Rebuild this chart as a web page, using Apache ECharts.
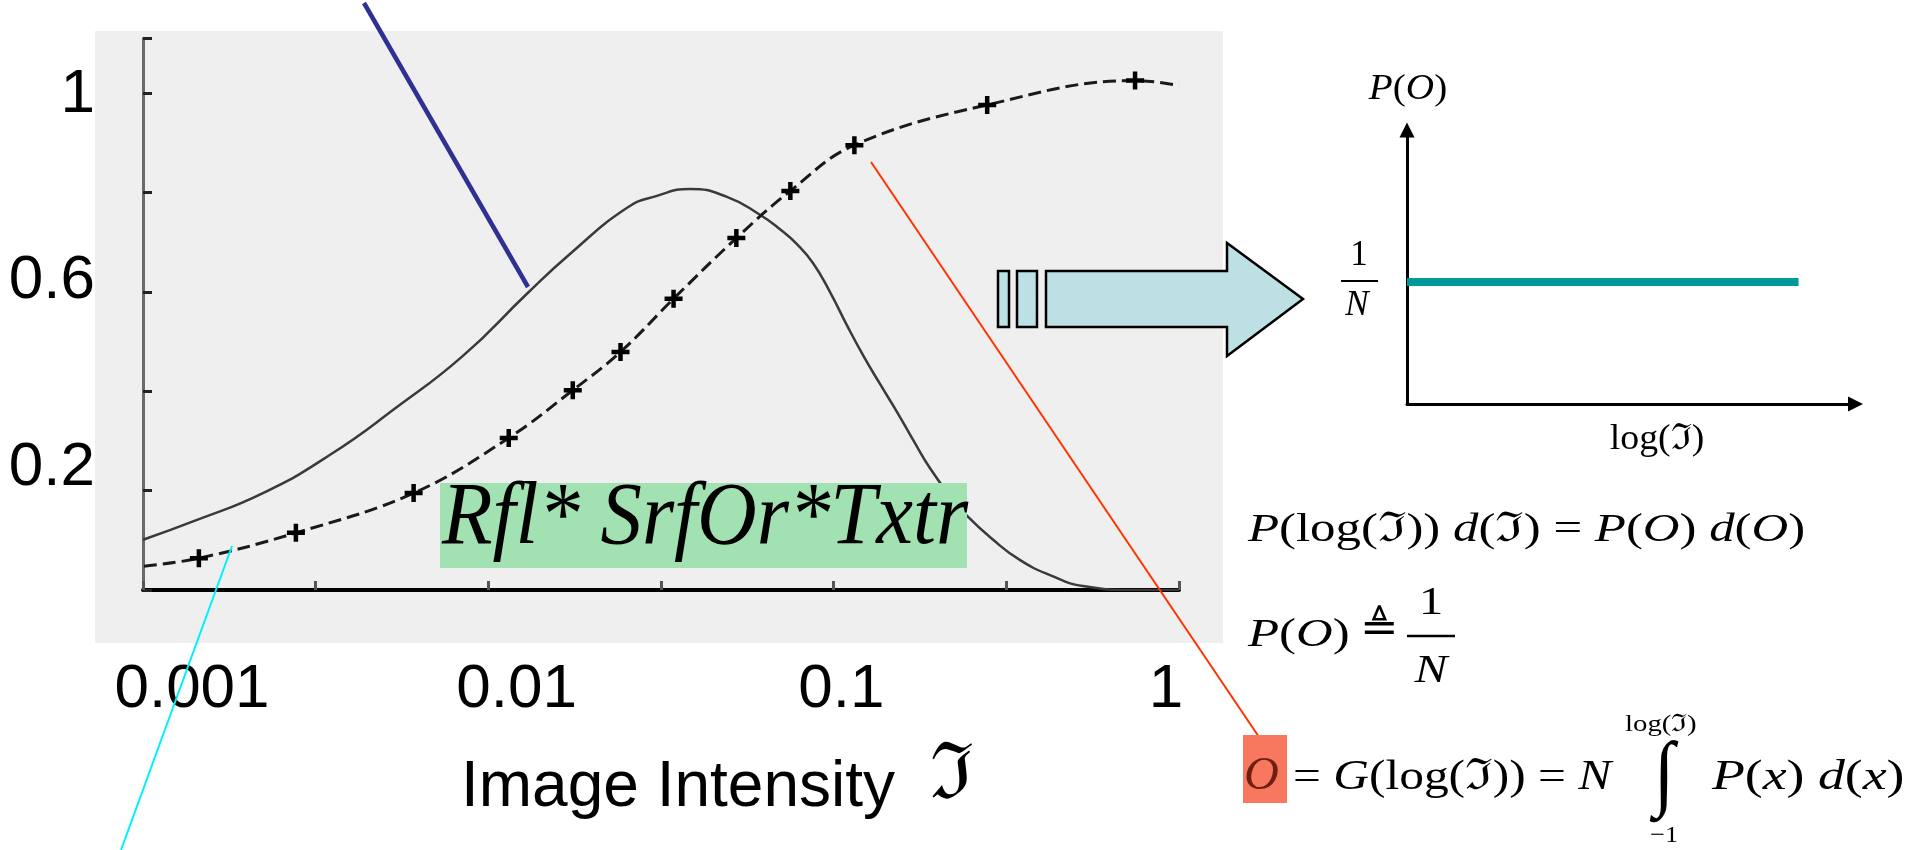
<!DOCTYPE html>
<html>
<head>
<meta charset="utf-8">
<script src="https://cdn.jsdelivr.net/npm/echarts@6/dist/echarts.min.js"></script>
<style>html,body{margin:0;padding:0;background:#fff;}#c{width:1912px;height:850px;}</style>
</head>
<body>
<div id="c"></div>
<script>
// ---- data (x = log10 of image intensity) ----
const bellLogI = [-3.300,-3.128,-2.918,-2.704,-2.491,-2.281,-2.077,-1.940,-1.758,-1.663,-1.558,-1.440,-1.335,-1.271,-1.217,-1.166,-1.112,-1.058,-1.007,-0.952,-0.898,-0.847,-0.793,-0.729,-0.675,-0.592,-0.506,-0.411,-0.306,-0.147,0];
const bellValue = [0.101,0.141,0.195,0.272,0.368,0.471,0.596,0.676,0.769,0.793,0.807,0.791,0.755,0.726,0.696,0.658,0.600,0.533,0.473,0.414,0.358,0.302,0.245,0.189,0.149,0.101,0.060,0.030,0.008,0.000,0.000];
const cumLogI = [-3.297,-3.122,-2.813,-2.438,-2.135,-1.931,-1.779,-1.610,-1.410,-1.238,-1.034,-0.611,-0.140,0];
const cumValue = [0.048,0.064,0.115,0.195,0.306,0.402,0.479,0.586,0.708,0.803,0.895,0.976,1.025,1.015];
const xTickLabels = ['0.001','0.01','0.1','1'];
const yTickLabels = ['0.2','0.6','1'];
const poX = [0, 0.873];
const poValue = [0.445, 0.445];

const SERIF = '"Liberation Serif","Times New Roman","DejaVu Serif",serif';
const SANS = '"Liberation Sans",Arial,sans-serif';

function T(x, y, text, size, o) {
  o = o || {};
  const style = {
    text: text, x: 0, y: 0,
    fontSize: size, fontFamily: o.family || SERIF,
    fontStyle: o.italic ? 'italic' : 'normal',
    fill: o.fill || '#000',
    align: o.align || 'left', textAlign: o.align || 'left',
    verticalAlign: 'middle', textVerticalAlign: 'middle'
  };
  if (o.rich) style.rich = o.rich;
  return { type: 'text', x: x, y: y, scaleX: o.sx || 1, scaleY: o.sy || 1, z: o.z || 80, style: style };
}
function L(x1, y1, x2, y2, color, w, z) {
  return { type: 'line', shape: { x1: x1, y1: y1, x2: x2, y2: y2 }, style: { stroke: color, lineWidth: w }, z: z || 70 };
}
const it = (s) => ({ fontStyle: 'italic', fontFamily: SERIF, fontSize: s });

const chart = echarts.init(document.getElementById('c'), null, { renderer: 'canvas' });

const bellData = bellLogI.map((x, i) => [x, bellValue[i]]);
const cumData = cumLogI.map((x, i) => {
  const d = { value: [x, cumValue[i]] };
  if (i === 0 || i === cumLogI.length - 1) d.symbol = 'none';
  return d;
});
const poData = poX.map((x, i) => [x, poValue[i]]);

const plus = 'path://M3,0L5,0L5,3L8,3L8,5L5,5L5,8L3,8L3,5L0,5L0,3L3,3Z';

const option = {
  backgroundColor: '#ffffff',
  animation: false,
  grid: [
    { left: 143, top: 38.3, width: 1036, height: 551.7 },
    { left: 192, top: 94.5, width: 974, height: 467 },
    { left: 1407, top: 130, width: 448.5, height: 274 }
  ],
  xAxis: [
    { gridIndex: 0, type: 'value', min: -3.3, max: 0, interval: 0.55,
      axisLine: { show: true, onZero: false, lineStyle: { color: '#000', width: 4 } },
      axisTick: { show: true, inside: true, length: 9, lineStyle: { color: '#555', width: 3 } },
      axisLabel: { show: false }, splitLine: { show: false } },
    { gridIndex: 1, type: 'category', data: xTickLabels, boundaryGap: false,
      axisLine: { show: false }, axisTick: { show: false }, splitLine: { show: false },
      axisLabel: { show: true, interval: 0, margin: 97.5, fontSize: 62, fontFamily: SANS, color: '#000' } },
    { gridIndex: 2, type: 'value', min: 0, max: 1,
      axisLine: { show: true, onZero: false, symbol: ['none', 'triangle'], symbolSize: [15, 15], lineStyle: { color: '#000', width: 3 } },
      axisTick: { show: false }, axisLabel: { show: false }, splitLine: { show: false } }
  ],
  yAxis: [
    { gridIndex: 0, type: 'value', min: 0, max: 1.11, interval: 0.2,
      axisLine: { show: true, onZero: false, lineStyle: { color: '#6a6a6a', width: 3 } },
      axisTick: { show: true, inside: true, length: 9, lineStyle: { color: '#222', width: 3 } },
      axisLabel: { show: false }, splitLine: { show: false } },
    { gridIndex: 1, type: 'value', min: 0, max: 1, interval: 0.2,
      axisLine: { show: false }, axisTick: { show: false }, splitLine: { show: false },
      axisLabel: { show: true, margin: 97, fontSize: 62, fontFamily: SANS, color: '#000',
        formatter: function (v) { const s = String(Math.round(v * 10) / 10); return yTickLabels.indexOf(s) >= 0 ? s : ''; } } },
    { gridIndex: 2, type: 'value', min: 0, max: 1,
      axisLine: { show: true, onZero: false, symbol: ['none', 'triangle'], symbolSize: [15, 15], lineStyle: { color: '#000', width: 3 } },
      axisTick: { show: false }, axisLabel: { show: false }, splitLine: { show: false } }
  ],
  series: [
    { type: 'line', xAxisIndex: 0, yAxisIndex: 0, data: bellData, smooth: 0.5, symbol: 'none',
      lineStyle: { color: '#3a3a3a', width: 2.5 } },
    { type: 'line', xAxisIndex: 0, yAxisIndex: 0, data: cumData, smooth: 0.4,
      symbol: plus, symbolSize: 18, showSymbol: true,
      itemStyle: { color: '#000' },
      lineStyle: { color: '#1a1a1a', width: 3, type: [13, 6] } },
    { type: 'line', xAxisIndex: 2, yAxisIndex: 2, data: poData, symbol: 'none',
      lineStyle: { color: '#009a96', width: 8, cap: 'butt' } }
  ],
  graphic: { elements: [
    { type: 'rect', shape: { x: 95, y: 31, width: 1128, height: 612 }, style: { fill: '#efefef' }, z: -10 },
    // green label
    { type: 'rect', shape: { x: 440, y: 483, width: 527, height: 85 }, style: { fill: '#a2e1b2' }, z: 50 },
    T(442, 519.5, 'Rfl* SrfOr*Txtr', 88, { italic: true, z: 51, sx: 0.94 }),
    // axis title
    T(461, 788.5, 'Image Intensity', 64, { family: SANS }),
    T(930, 778, 'ℑ', 78, { family: '"DejaVu Serif",serif' }),
    // annotation lines
    L(364, 3, 528, 287, '#2e3192', 4.5),
    L(871, 162, 1259, 737, '#ff3300', 2),
    L(232, 546, 121, 850, '#00f0ff', 2),
    // block arrow
    { type: 'rect', shape: { x: 998, y: 271, width: 11, height: 56 }, style: { fill: '#bce0e3', stroke: '#000', lineWidth: 2.5 }, z: 60 },
    { type: 'rect', shape: { x: 1017, y: 271, width: 20, height: 56 }, style: { fill: '#bce0e3', stroke: '#000', lineWidth: 2.5 }, z: 60 },
    { type: 'polygon', shape: { points: [[1046, 271], [1227, 271], [1227, 243], [1303, 299], [1227, 356], [1227, 327], [1046, 327]] },
      style: { fill: '#bce0e3', stroke: '#000', lineWidth: 2.5 }, z: 60 },
    // small P(O) chart labels
    T(1408, 90, '{i|P}({i|O})', 35, { align: 'center', sx: 1.12, rich: { i: it(35) } }),
    T(1359, 256, '1', 35, { align: 'center' }),
    L(1341, 281, 1378, 281, '#000', 2),
    T(1357, 306, 'N', 35, { align: 'center', italic: true }),
    T(1657, 440, 'log(ℑ)', 36, { align: 'center', sx: 1.05 }),
    // equation 1
    T(1248, 530.5, '{i|P}(log(ℑ)) {i|d}(ℑ) = {i|P}({i|O}) {i|d}({i|O})', 41, { sx: 1.24, rich: { i: it(41) } }),
    // equation 2
    T(1248, 635.5, '{i|P}({i|O})', 41, { sx: 1.24, rich: { i: it(41) } }),
    T(1379, 630, '≜', 42, { align: 'center', family: '"DejaVu Sans",sans-serif', sx: 1.1 }),
    T(1431, 603, '1', 41, { align: 'center', sx: 1.2 }),
    L(1407, 636, 1455, 636, '#000', 2.5),
    T(1431, 671, 'N', 41, { align: 'center', italic: true, sx: 1.2 }),
    // equation 3
    { type: 'rect', shape: { x: 1243, y: 735, width: 44, height: 68 }, style: { fill: '#f8785f' }, z: 75 },
    T(1244, 777, 'O', 46, { italic: true, fill: '#6e200f', sx: 1.05 }),
    T(1293, 778, '= {i|G}(log(ℑ)) = {i|N}', 43, { sx: 1.15, rich: { i: it(43) } }),
    T(1664, 778, '∫', 84, { align: 'center', sx: 0.9 }),
    T(1625, 725, 'log(ℑ)', 24, { sx: 1.2 }),
    T(1650, 836, '−1', 24, { sx: 1.1 }),
    T(1712, 778, '{i|P}({i|x}) {i|d}({i|x})', 43, { sx: 1.25, rich: { i: it(43) } })
  ] }
};
chart.setOption(option);
</script>
</body>
</html>
